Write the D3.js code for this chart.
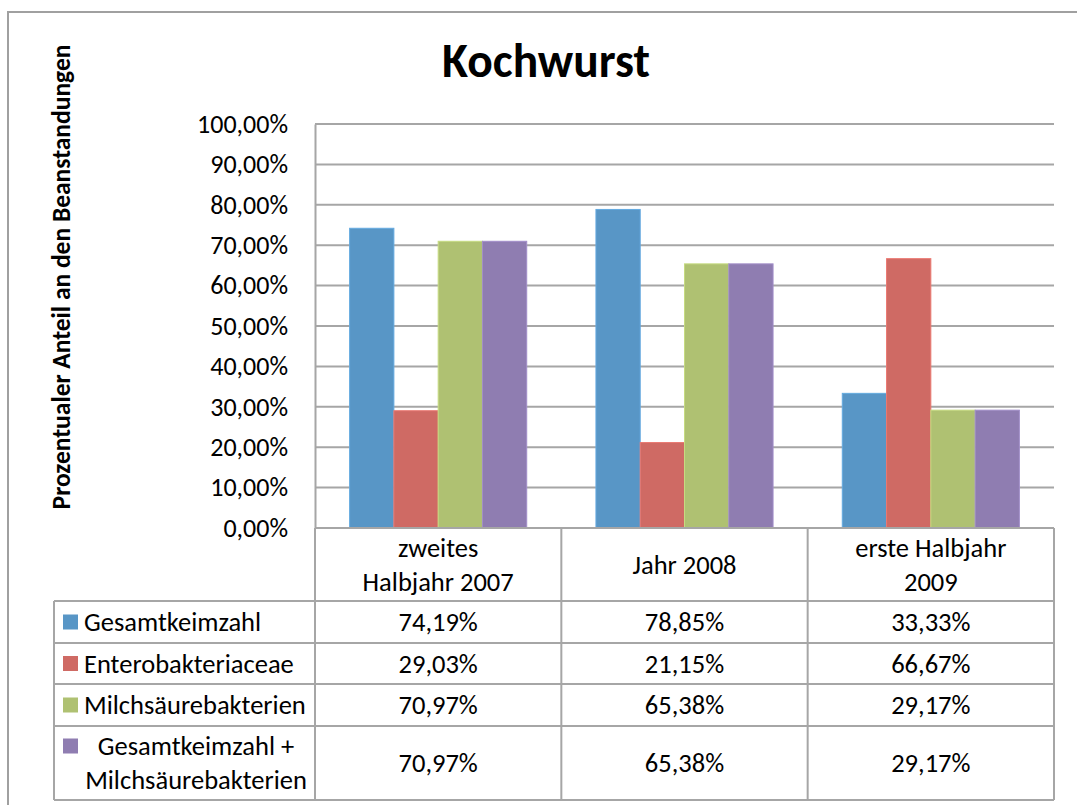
<!DOCTYPE html>
<html>
<head>
<meta charset="utf-8">
<script src="https://cdn.jsdelivr.net/npm/d3@7/dist/d3.min.js"></script>
<style>
body {
  margin: 0;
  padding: 0;
  background: #fff;
}
text {
  font-family: Carlito, Calibri, Lato, sans-serif;
  fill: #000;
}
</style>
</head>
<body>
<svg></svg>
<script>
// chart data
var categories = [['zweites', 'Halbjahr 2007'], ['Jahr 2008'], ['erste Halbjahr', '2009']];
var seriesNames = [['Gesamtkeimzahl'], ['Enterobakteriaceae'], ['Milchsäurebakterien'], ['Gesamtkeimzahl +', 'Milchsäurebakterien']];
var seriesColors = ['#5896c6', '#cf6a64', '#afc172', '#8f7db1'];
var gesamtkeimzahl = [74.19, 78.85, 33.33];
var enterobakteriaceae = [29.03, 21.15, 66.67];
var milchsaeure = [70.97, 65.38, 29.17];
var gesamtPlusMilch = [70.97, 65.38, 29.17];
var yTicks = [0, 10, 20, 30, 40, 50, 60, 70, 80, 90, 100];

var seriesValues = [gesamtkeimzahl, enterobakteriaceae, milchsaeure, gesamtPlusMilch];

var width = 1077,
  height = 805;

var svg = d3.select('svg')
  .attr('width', width)
  .attr('height', height);

var fmt = function(v) {
  return v.toFixed(2).replace('.', ',') + '%';
};

var gridColor = '#a6a6a6';
var fontSize = '26.5px';
var plot = { left: 315, right: 1054, top: 124, bottom: 528 };

// outer chart border
svg.append('rect')
  .attr('x', 8).attr('y', 12)
  .attr('width', 1100).attr('height', 850)
  .attr('fill', 'none')
  .attr('stroke', '#a0a0a0')
  .attr('stroke-width', 2);

// title
svg.append('text')
  .attr('x', 546).attr('y', 77)
  .attr('text-anchor', 'middle')
  .style('font-weight', 'bold')
  .style('font-size', '47.5px')
  .text('Kochwurst');

// y axis title
svg.append('text')
  .attr('transform', 'translate(70,277) rotate(-90)')
  .attr('text-anchor', 'middle')
  .style('font-weight', 'bold')
  .style('font-size', '25.5px')
  .text('Prozentualer Anteil an den Beanstandungen');

var x = d3.scaleBand()
  .domain(d3.range(categories.length))
  .range([plot.left, plot.right])
  .paddingInner(0.281)
  .paddingOuter(0.1405);

var xs = d3.scaleBand()
  .domain(d3.range(seriesValues.length))
  .range([0, x.bandwidth()]);

var y = d3.scaleLinear()
  .domain([0, 100])
  .range([plot.bottom, plot.top]);

// gridlines
svg.append('g')
  .selectAll('line')
  .data(yTicks.slice(1))
  .enter().append('line')
  .attr('x1', plot.left).attr('x2', plot.right)
  .attr('y1', function(d) { return y(d); })
  .attr('y2', function(d) { return y(d); })
  .attr('stroke', gridColor)
  .attr('stroke-width', 2);

// y axis
var yAxis = svg.append('g')
  .attr('transform', 'translate(' + plot.left + ',0)')
  .call(d3.axisLeft(y).tickValues(yTicks).tickSize(0).tickPadding(27).tickFormat(function(d) {
    return fmt(d);
  }));
yAxis.select('.domain').attr('stroke', gridColor).attr('stroke-width', 2);
yAxis.selectAll('text')
  .style('font-size', '26px')
  .style('font-family', 'Carlito, Calibri, Lato, sans-serif')
  .attr('fill', '#000');

// bars
var groups = svg.append('g')
  .selectAll('g')
  .data(categories)
  .enter().append('g')
  .attr('transform', function(d, i) { return 'translate(' + x(i) + ',0)'; });

groups.selectAll('rect')
  .data(function(d, i) {
    return seriesValues.map(function(vals, s) { return { s: s, v: vals[i] }; });
  })
  .enter().append('rect')
  .attr('x', function(d) { return xs(d.s); })
  .attr('width', xs.bandwidth())
  .attr('y', function(d) { return y(d.v); })
  .attr('height', function(d) { return y(0) - y(d.v); })
  .attr('fill', function(d) { return seriesColors[d.s]; })
  .attr('stroke', function(d) { return d3.color(seriesColors[d.s]).brighter(0.35); })
  .attr('stroke-width', 1);

// data table
var rowEdges = [528, 601, 643, 684, 726, 800];
var tableLeft = 54;
var table = svg.append('g');
var colEdges = [plot.left, x.step() + plot.left, 2 * x.step() + plot.left, plot.right];

// horizontal table lines
table.append('line')
  .attr('x1', plot.left).attr('x2', plot.right)
  .attr('y1', rowEdges[0]).attr('y2', rowEdges[0])
  .attr('stroke', gridColor).attr('stroke-width', 2);
table.selectAll('.hline')
  .data(rowEdges.slice(1))
  .enter().append('line')
  .attr('x1', tableLeft).attr('x2', plot.right)
  .attr('y1', function(d) { return d; })
  .attr('y2', function(d) { return d; })
  .attr('stroke', gridColor).attr('stroke-width', 2);
// vertical table lines
table.append('line')
  .attr('x1', tableLeft).attr('x2', tableLeft)
  .attr('y1', rowEdges[1]).attr('y2', rowEdges[5])
  .attr('stroke', gridColor).attr('stroke-width', 2);
table.selectAll('.vline')
  .data(colEdges)
  .enter().append('line')
  .attr('x1', function(d) { return d; })
  .attr('x2', function(d) { return d; })
  .attr('y1', rowEdges[0]).attr('y2', rowEdges[5])
  .attr('stroke', gridColor).attr('stroke-width', 2);

var lineH = 34;

function multiline(sel, lines, cx, cy) {
  var t = sel.append('text')
    .attr('text-anchor', 'middle')
    .style('font-size', fontSize);
  var y0 = cy - (lines.length - 1) * lineH / 2;
  lines.forEach(function(l, k) {
    t.append('tspan')
      .attr('x', cx)
      .attr('y', y0 + k * lineH)
      .attr('dy', '0.35em')
      .text(l);
  });
  return t;
}

// category header
categories.forEach(function(c, i) {
  multiline(table, c, x(i) + x.bandwidth() / 2, (rowEdges[0] + rowEdges[1]) / 2);
});

// series rows
seriesNames.forEach(function(name, s) {
  var cy = (rowEdges[s + 1] + rowEdges[s + 2]) / 2;
  var firstLineY = cy - (name.length - 1) * lineH / 2;
  table.append('rect')
    .attr('x', 63).attr('y', firstLineY - 7.5)
    .attr('width', 15).attr('height', 15)
    .attr('fill', seriesColors[s]);
  if (name.length === 1) {
    table.append('text')
      .attr('x', 84).attr('y', cy)
      .attr('dy', '0.35em')
      .style('font-size', fontSize)
      .text(name[0]);
  } else {
    multiline(table, name, 196, cy);
  }
  seriesValues[s].forEach(function(v, i) {
    multiline(table, [fmt(v)], x(i) + x.bandwidth() / 2, cy);
  });
});
</script>
</body>
</html>
